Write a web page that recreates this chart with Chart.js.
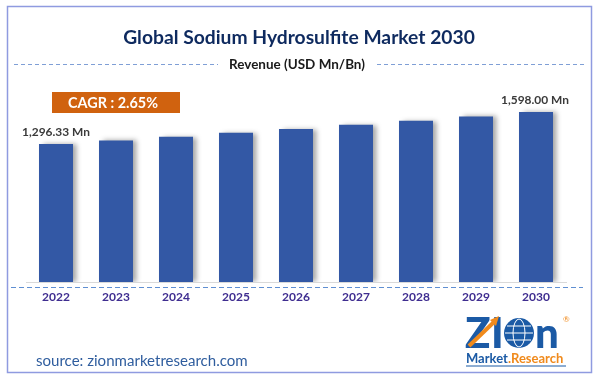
<!DOCTYPE html>
<html>
<head>
<meta charset="utf-8">
<script src="https://cdn.jsdelivr.net/npm/chart.js@4/dist/chart.umd.min.js"></script>
<style>
html,body{margin:0;padding:0;background:#fff;}
#wrap{width:599px;height:381px;position:relative;}
</style>
</head>
<body>
<div id="wrap"><canvas id="c" width="599" height="381"></canvas></div>
<script>
const years = ['2022','2023','2024','2025','2026','2027','2028','2029','2030'];
const revenue = [1296.33, 1331, 1366, 1402, 1439, 1478, 1517, 1557, 1598.00];
const valueLabels = ['1,296.33 Mn','','','','','','','','1,598.00 Mn'];
const titleText = 'Global Sodium Hydrosulfite Market 2030';
const subtitleText = 'Revenue (USD Mn/Bn)';
const cagrText = 'CAGR : 2.65%';
const sourceText = 'source: zionmarketresearch.com';

const FONT = 'Lato, "Open Sans", "DejaVu Sans", sans-serif';

function fitFont(ctx, text, weight, target) {
  ctx.font = weight + ' 20px ' + FONT;
  const w = ctx.measureText(text).width;
  return 20 * target / w;
}

const decor = {
  id: 'decor',
  beforeDraw(chart) {
    const ctx = chart.ctx;
    ctx.save();
    ctx.fillStyle = '#fff';
    ctx.fillRect(0, 0, chart.width, chart.height);
    // frame
    ctx.strokeStyle = '#8f9be0';
    ctx.lineWidth = 1.5;
    ctx.strokeRect(7.5, 6.5, 584, 366);
    // title
    ctx.textAlign = 'center';
    ctx.textBaseline = 'middle';
    let s = fitFont(ctx, titleText, 'bold', 352);
    ctx.font = 'bold ' + s + 'px ' + FONT;
    ctx.fillStyle = '#0e2a5f';
    ctx.fillText(titleText, 299, 38);
    // subtitle
    s = fitFont(ctx, subtitleText, 'bold', 136);
    ctx.font = 'bold ' + s + 'px ' + FONT;
    ctx.fillStyle = '#1a1a1a';
    ctx.fillText(subtitleText, 297, 65);
    // dashed lines around subtitle
    ctx.strokeStyle = '#7f9fd6';
    ctx.lineWidth = 1;
    ctx.setLineDash([4, 3]);
    ctx.beginPath();
    ctx.moveTo(14, 64.5); ctx.lineTo(218, 64.5);
    ctx.moveTo(377, 64.5); ctx.lineTo(585, 64.5);
    ctx.stroke();
    // dashed line below axis
    ctx.strokeStyle = '#5f8fd2';
    ctx.setLineDash([5, 3]);
    ctx.beginPath();
    ctx.moveTo(11, 287.5); ctx.lineTo(583, 287.5);
    ctx.stroke();
    ctx.setLineDash([]);
    // CAGR box
    ctx.fillStyle = '#d0620f';
    ctx.fillRect(52, 92, 128, 21);
    s = fitFont(ctx, cagrText, 'bold', 90);
    ctx.font = 'bold ' + s + 'px ' + FONT;
    ctx.fillStyle = '#ffffff';
    ctx.fillText(cagrText, 113, 103);
    // source
    ctx.textAlign = 'left';
    s = fitFont(ctx, sourceText, 'normal', 212);
    ctx.font = 'normal ' + s + 'px ' + FONT;
    ctx.fillStyle = '#2f5d9e';
    ctx.fillText(sourceText, 36, 361);
    // logo
    drawLogo(ctx);
    ctx.restore();
  },
  beforeDatasetsDraw(chart) {
    const ctx = chart.ctx;
    ctx.save();
    ctx.shadowColor = 'rgba(0,0,0,0.35)';
    ctx.shadowOffsetX = 4;
    ctx.shadowOffsetY = 0;
    ctx.shadowBlur = 5;
  },
  afterDatasetsDraw(chart) {
    const ctx = chart.ctx;
    ctx.restore();
    ctx.save();
    const meta = chart.getDatasetMeta(0);
    ctx.textAlign = 'center';
    ctx.textBaseline = 'middle';
    const s = fitFont(ctx, '1,296.33 Mn', 'bold', 68);
    ctx.font = 'bold ' + s + 'px ' + FONT;
    ctx.fillStyle = '#3a3a3a';
    meta.data.forEach((bar, i) => {
      if (!valueLabels[i]) return;
      const dx = i === 0 ? 0 : -1;
      ctx.fillText(valueLabels[i], bar.x + dx, bar.y - 12);
    });
    ctx.restore();
  }
};

function drawLogo(ctx) {
  const blue = '#1b5aa5', orange = '#f08a1c';
  ctx.save();
  ctx.textAlign = 'left';
  ctx.textBaseline = 'alphabetic';
  ctx.fillStyle = blue;
  ctx.font = '900 42px ' + FONT;
  ctx.fillText('Z', 465, 348);
  ctx.fillText('I', 491, 348);
  ctx.fillText('n', 535, 348);
  // orange arrow
  ctx.strokeStyle = orange;
  ctx.lineWidth = 4;
  ctx.beginPath();
  ctx.moveTo(469, 346); ctx.lineTo(494, 322);
  ctx.stroke();
  ctx.fillStyle = orange;
  ctx.beginPath();
  ctx.moveTo(499, 316); ctx.lineTo(490, 320); ctx.lineTo(496, 326); ctx.closePath();
  ctx.fill();
  // globe
  ctx.fillStyle = blue;
  ctx.beginPath(); ctx.arc(519, 333, 15, 0, Math.PI * 2); ctx.fill();
  ctx.strokeStyle = '#ffffff';
  ctx.lineWidth = 1;
  ctx.beginPath(); ctx.ellipse(519, 333, 6, 14, 0, 0, Math.PI * 2); ctx.stroke();
  ctx.beginPath(); ctx.moveTo(505, 333); ctx.lineTo(533, 333); ctx.stroke();
  ctx.beginPath(); ctx.moveTo(507, 326); ctx.lineTo(531, 326); ctx.moveTo(507, 340); ctx.lineTo(531, 340); ctx.stroke();
  // registered
  ctx.font = '8px ' + FONT;
  ctx.fillStyle = orange;
  ctx.fillText('®', 563, 322);
  // Market.Research
  ctx.font = 'bold 13px ' + FONT;
  ctx.fillStyle = blue;
  ctx.fillText('Market', 466, 363);
  const w = ctx.measureText('Market').width;
  ctx.fillStyle = orange;
  ctx.fillText('.Research', 466 + w, 363);
  ctx.strokeStyle = blue;
  ctx.lineWidth = 1;
  ctx.beginPath(); ctx.moveTo(466, 366); ctx.lineTo(566, 366); ctx.stroke();
  ctx.restore();
}

new Chart(document.getElementById('c'), {
  type: 'bar',
  data: {
    labels: years,
    datasets: [{
      data: revenue,
      backgroundColor: '#3358a5',
      borderWidth: 0,
      barPercentage: 0.567,
      categoryPercentage: 1.0
    }]
  },
  options: {
    responsive: false,
    animation: false,
    devicePixelRatio: 1,
    layout: { padding: { left: 26, right: 33, top: 100, bottom: 0 } },
    plugins: { legend: { display: false }, tooltip: { enabled: false }, title: { display: false } },
    scales: {
      x: {
        grid: { display: false, drawTicks: false },
        border: { display: true, color: '#d9d9d9', width: 1 },
        ticks: { color: '#3f2d90', font: { family: FONT, weight: 'bold', size: 12 }, padding: 8 },
        afterFit(scale) { scale.height = 99; }
      },
      y: {
        display: false,
        min: 0,
        max: 1711
      }
    }
  },
  plugins: [decor]
});
</script>
</body>
</html>
